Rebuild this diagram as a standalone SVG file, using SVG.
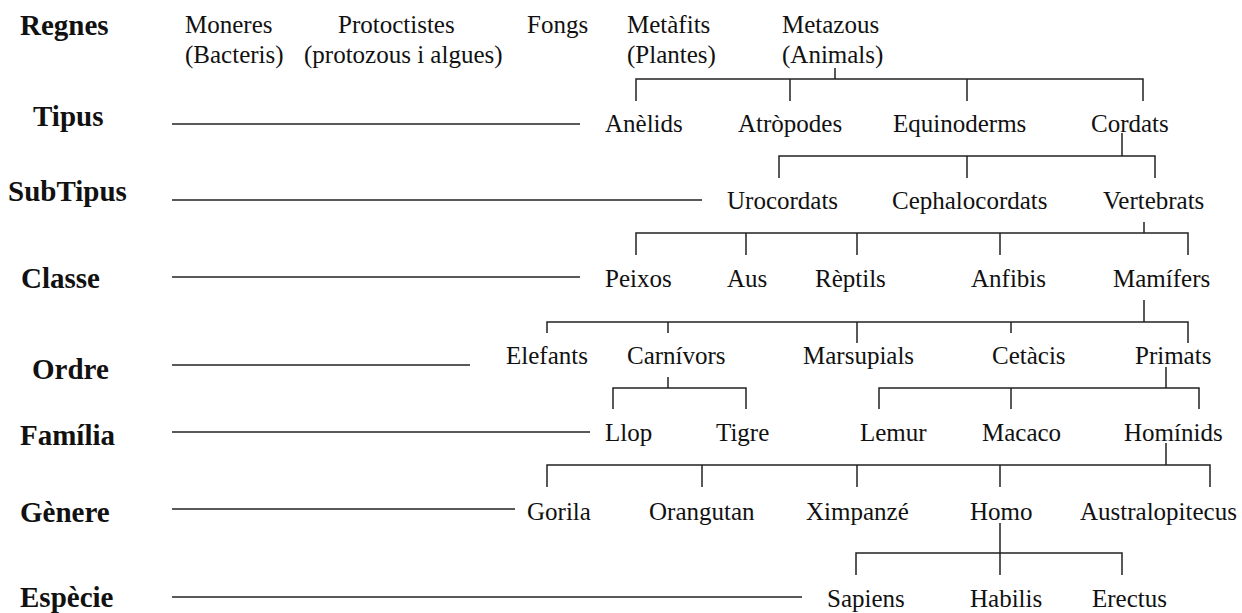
<svg xmlns="http://www.w3.org/2000/svg" width="1242" height="613" viewBox="0 0 1242 613">
<style>
text{font-family:"Liberation Serif","Times New Roman",serif;fill:#111}
.t{font-size:25px}
.h{font-size:29px;font-weight:bold}
.ln{stroke:#222;stroke-width:1.5;fill:none}
</style>
<rect width="1242" height="613" fill="#fff"/>
<g id="levels">
<text class="h" x="20" y="35">Regnes</text>
<text class="h" x="33" y="126">Tipus</text>
<text class="h" x="8" y="201">SubTipus</text>
<text class="h" x="21" y="288">Classe</text>
<text class="h" x="32" y="379">Ordre</text>
<text class="h" x="20" y="445">Família</text>
<text class="h" x="20" y="522">Gènere</text>
<text class="h" x="20" y="607">Espècie</text>
</g>
<g id="n-moneres"><text class="t" x="185" y="33">Moneres</text><text class="t" x="185" y="63">(Bacteris)</text></g>
<g id="n-protoctistes"><text class="t" x="338" y="33">Protoctistes</text><text class="t" x="304" y="63">(protozous i algues)</text></g>
<g id="n-fongs"><text class="t" x="527" y="33">Fongs</text></g>
<g id="n-metafits"><text class="t" x="627" y="33">Metàfits</text><text class="t" x="627" y="63">(Plantes)</text></g>
<g id="n-metazous"><text class="t" x="782" y="33">Metazous</text><text class="t" x="782" y="63">(Animals)</text></g>
<g id="n-anelids"><text class="t" x="605" y="132">Anèlids</text></g>
<g id="n-atropodes"><text class="t" x="738" y="132">Atròpodes</text></g>
<g id="n-equinoderms"><text class="t" x="893" y="132">Equinoderms</text></g>
<g id="n-cordats"><text class="t" x="1091" y="132">Cordats</text></g>
<g id="n-urocordats"><text class="t" x="727" y="209">Urocordats</text></g>
<g id="n-cephalocordats"><text class="t" x="892" y="209">Cephalocordats</text></g>
<g id="n-vertebrats"><text class="t" x="1103" y="209">Vertebrats</text></g>
<g id="n-peixos"><text class="t" x="605" y="287">Peixos</text></g>
<g id="n-aus"><text class="t" x="727" y="287">Aus</text></g>
<g id="n-reptils"><text class="t" x="815" y="287">Rèptils</text></g>
<g id="n-anfibis"><text class="t" x="971" y="287">Anfibis</text></g>
<g id="n-mamifers"><text class="t" x="1113" y="287">Mamífers</text></g>
<g id="n-elefants"><text class="t" x="506" y="364">Elefants</text></g>
<g id="n-carnivors"><text class="t" x="627" y="364">Carnívors</text></g>
<g id="n-marsupials"><text class="t" x="803" y="364">Marsupials</text></g>
<g id="n-cetacis"><text class="t" x="992" y="364">Cetàcis</text></g>
<g id="n-primats"><text class="t" x="1135" y="364">Primats</text></g>
<g id="n-llop"><text class="t" x="605" y="441">Llop</text></g>
<g id="n-tigre"><text class="t" x="716" y="441">Tigre</text></g>
<g id="n-lemur"><text class="t" x="860" y="441">Lemur</text></g>
<g id="n-macaco"><text class="t" x="982" y="441">Macaco</text></g>
<g id="n-hominids"><text class="t" x="1124" y="441">Homínids</text></g>
<g id="n-gorila"><text class="t" x="527" y="520">Gorila</text></g>
<g id="n-orangutan"><text class="t" x="649" y="520">Orangutan</text></g>
<g id="n-ximpanze"><text class="t" x="806" y="520">Ximpanzé</text></g>
<g id="n-homo"><text class="t" x="970" y="520">Homo</text></g>
<g id="n-australopitecus"><text class="t" x="1080" y="520">Australopitecus</text></g>
<g id="n-sapiens"><text class="t" x="827" y="607">Sapiens</text></g>
<g id="n-habilis"><text class="t" x="970" y="607">Habilis</text></g>
<g id="n-erectus"><text class="t" x="1092" y="607">Erectus</text></g>
<g id="rules" class="ln">
<line x1="172" y1="124" x2="580" y2="124"/>
<line x1="172" y1="200" x2="702" y2="200"/>
<line x1="172" y1="277" x2="580" y2="277"/>
<line x1="172" y1="365" x2="470" y2="365"/>
<line x1="172" y1="432" x2="590" y2="432"/>
<line x1="172" y1="509" x2="515" y2="509"/>
<line x1="172" y1="597" x2="802" y2="597"/>
</g>
<g id="connectors" class="ln">
<line x1="835" y1="68" x2="835" y2="79"/>
<polyline points="636,101 636,79 1143,79 1143,101"/>
<line x1="790" y1="79" x2="790" y2="101"/>
<line x1="967" y1="79" x2="967" y2="101"/>
<line x1="1122" y1="133" x2="1122" y2="156"/>
<polyline points="779,178 779,156 1155,156 1155,178"/>
<line x1="967" y1="156" x2="967" y2="178"/>
<line x1="1144" y1="222" x2="1144" y2="233"/>
<polyline points="636,255 636,233 1188,233 1188,255"/>
<line x1="746" y1="233" x2="746" y2="255"/>
<line x1="857" y1="233" x2="857" y2="255"/>
<line x1="1000" y1="233" x2="1000" y2="255"/>
<line x1="1144" y1="300" x2="1144" y2="322"/>
<polyline points="547,333 547,322 1188,322 1188,343"/>
<line x1="668" y1="322" x2="668" y2="333"/>
<line x1="857" y1="322" x2="857" y2="343"/>
<line x1="1011" y1="322" x2="1011" y2="333"/>
<line x1="668" y1="377" x2="668" y2="388"/>
<polyline points="613,409 613,388 746,388 746,409"/>
<line x1="1166" y1="367" x2="1166" y2="388"/>
<polyline points="879,409 879,388 1199,388 1199,409"/>
<line x1="1011" y1="388" x2="1011" y2="409"/>
<line x1="1166" y1="443" x2="1166" y2="465"/>
<polyline points="547,487 547,465 1210,465 1210,487"/>
<line x1="702" y1="465" x2="702" y2="487"/>
<line x1="857" y1="465" x2="857" y2="487"/>
<line x1="1000" y1="465" x2="1000" y2="487"/>
<line x1="1000" y1="523" x2="1000" y2="575"/>
<polyline points="856,575 856,553 1122,553 1122,575"/>
</g>
</svg>
